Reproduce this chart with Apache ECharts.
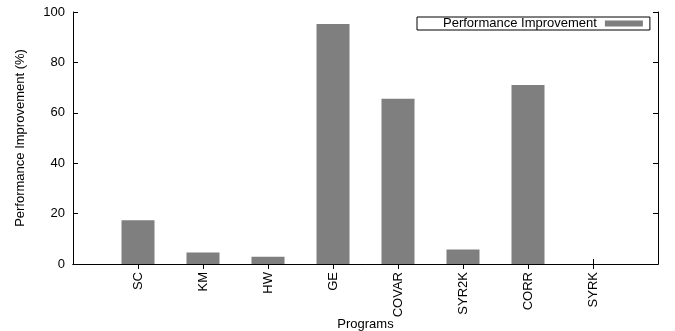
<!DOCTYPE html>
<html>
<head>
<meta charset="utf-8">
<script src="https://cdn.jsdelivr.net/npm/echarts@6/dist/echarts.min.js"></script>
<style>
html,body{margin:0;padding:0;background:#fff;}
#c{width:675px;height:331px;}
</style>
</head>
<body>
<div id="c"></div>
<script>
const categories = ['SC', 'KM', 'HW', 'GE', 'COVAR', 'SYR2K', 'CORR', 'SYRK'];
const improvement = [17.4, 4.6, 2.9, 95.2, 65.6, 5.8, 71.0, 0];
const yTicks = [0, 20, 40, 60, 80, 100];
const seriesName = 'Performance Improvement';

const FONT = '"Liberation Sans", Arial, Helvetica, sans-serif';
const FS = 13;
const axisCats = [''].concat(categories, ['']);
const barData = [null].concat(improvement, [null]);
const tickFn = function (idx) { return idx > 0 && idx < axisCats.length - 1; };

const chart = echarts.init(document.getElementById('c'));
chart.setOption({
  animation: false,
  backgroundColor: '#fff',
  textStyle: { fontFamily: FONT, color: '#000' },
  grid: { left: 73, right: 17, top: 12, bottom: 67, containLabel: false, outerBoundsMode: 'none' },
  legend: {
    data: [seriesName],
    left: 417,
    top: 17,
    align: 'right',
    icon: 'rect',
    itemWidth: 38,
    itemHeight: 6,
    borderColor: '#000',
    borderWidth: 1,
    borderRadius: 0,
    padding: [0, 7, 0, 26],
    textStyle: { fontFamily: FONT, fontSize: FS, color: '#000', padding: [1, 3, 0, 0] }
  },
  xAxis: [
    {
      type: 'category',
      data: axisCats,
      boundaryGap: false,
      position: 'bottom',
      name: 'Programs',
      nameLocation: 'middle',
      nameGap: 54,
      nameMoveOverlap: false,
      nameTextStyle: { fontFamily: FONT, fontSize: FS, color: '#000' },
      axisLine: { show: true, lineStyle: { color: '#000', width: 1 } },
      axisTick: { show: true, inside: true, length: 5, interval: tickFn, lineStyle: { color: '#000' } },
      axisLabel: { show: true, interval: 0, rotate: 90, margin: 8, fontFamily: FONT, fontSize: FS, color: '#000' },
      splitLine: { show: false }
    },
    {
      type: 'category',
      data: axisCats,
      boundaryGap: false,
      position: 'top',
      axisLine: { show: true, lineStyle: { color: '#000', width: 1 } },
      axisTick: { show: true, inside: true, length: 5, interval: tickFn, lineStyle: { color: '#000' } },
      axisLabel: { show: false },
      splitLine: { show: false }
    }
  ],
  yAxis: [
    {
      type: 'value',
      min: 0, max: 100, interval: 20,
      position: 'left',
      name: 'Performance Improvement (%)',
      nameLocation: 'middle',
      nameGap: 46,
      nameMoveOverlap: false,
      nameTextStyle: { fontFamily: FONT, fontSize: FS, color: '#000' },
      axisLine: { show: true, lineStyle: { color: '#000', width: 1 } },
      axisTick: { show: true, inside: true, length: 5, lineStyle: { color: '#000' } },
      axisLabel: {
        margin: 8, fontFamily: FONT, fontSize: FS, color: '#000',
        formatter: function (v) { return yTicks.indexOf(v) >= 0 ? String(v) : ''; }
      },
      splitLine: { show: false }
    },
    {
      type: 'value',
      min: 0, max: 100, interval: 20,
      position: 'right',
      axisLine: { show: true, lineStyle: { color: '#000', width: 1 } },
      axisTick: { show: true, inside: true, length: 5, lineStyle: { color: '#000' } },
      axisLabel: { show: false },
      splitLine: { show: false }
    }
  ],
  series: [
    {
      name: seriesName,
      type: 'bar',
      xAxisIndex: 0,
      yAxisIndex: 0,
      data: barData,
      barWidth: 33,
      itemStyle: { color: '#7f7f7f' }
    }
  ]
});
</script>
</body>
</html>
